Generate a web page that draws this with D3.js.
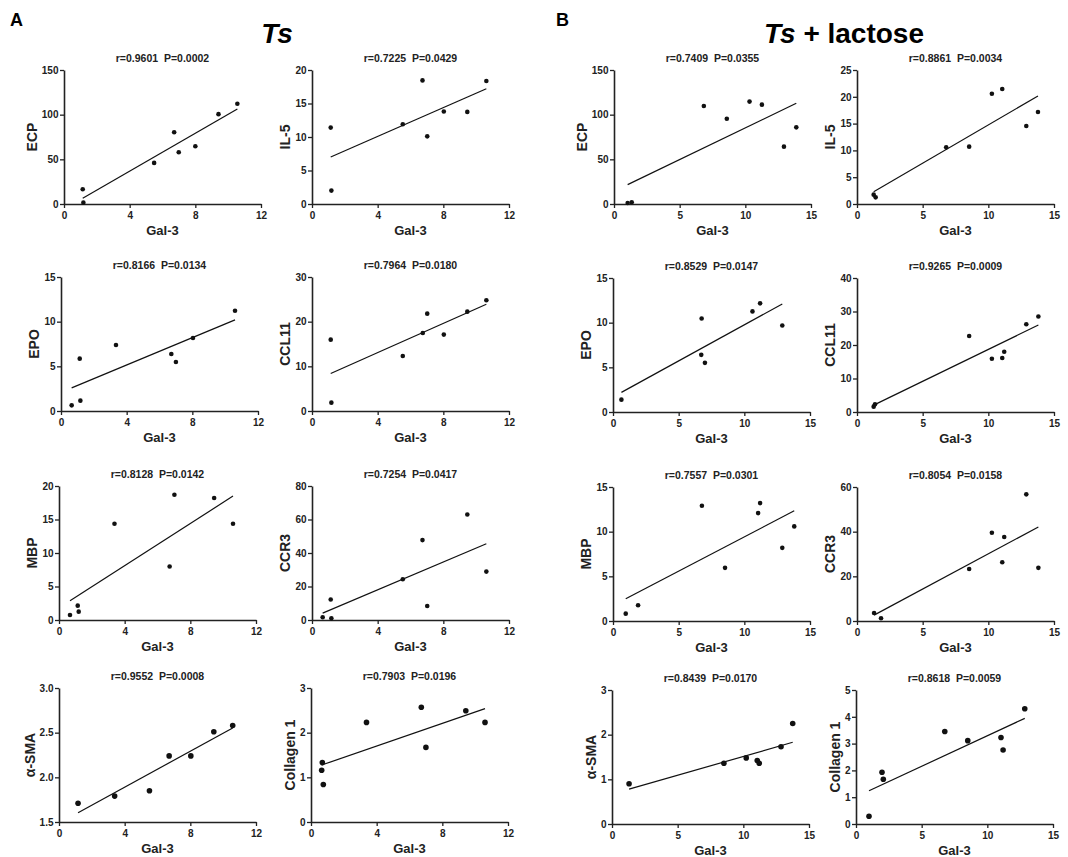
<!DOCTYPE html>
<html>
<head>
<meta charset="utf-8">
<script src="https://cdn.jsdelivr.net/npm/d3@7"></script>
<style>
  body { margin: 0; background: #fff; }
  svg { display: block; font-family: "Liberation Sans", Arial, sans-serif; }
</style>
</head>
<body>
<div id="chart"></div>
<script>
// ---- Ts group (Gal-3 on x) ----
const tsEcpX = [1.14, 1.18, 5.49, 6.71, 6.99, 8.0, 9.41, 10.56];
const tsEcpY = [16.5, 1.5, 46, 80.4, 58, 64.7, 100.6, 112.2];
const tsIl5X = [1.14, 1.18, 5.53, 6.73, 7.02, 8.03, 9.46, 10.62];
const tsIl5Y = [11.4, 2.0, 11.9, 18.45, 10.1, 13.8, 13.75, 18.35];
const tsEpoX = [0.65, 1.14, 1.18, 3.35, 6.72, 7.0, 8.04, 10.6];
const tsEpoY = [0.63, 5.86, 1.16, 7.39, 6.38, 5.49, 8.17, 11.23];
const tsCcl11X = [1.14, 1.18, 5.53, 6.75, 7.02, 8.03, 9.46, 10.62];
const tsCcl11Y = [15.97, 1.87, 12.3, 17.46, 21.8, 17.1, 22.24, 24.78];
const tsMbpX = [0.67, 1.14, 1.2, 3.38, 6.74, 7.03, 9.45, 10.6];
const tsMbpY = [0.75, 2.14, 1.25, 14.36, 7.98, 18.7, 18.2, 14.36];
const tsCcr3X = [0.65, 1.14, 1.18, 5.53, 6.73, 7.02, 9.46, 10.62];
const tsCcr3Y = [1.6, 12.2, 1.0, 24.3, 47.7, 8.4, 63.0, 28.9];
const tsSmaX = [1.16, 3.39, 5.51, 6.71, 8.03, 9.43, 10.58];
const tsSmaY = [1.71, 1.79, 1.85, 2.24, 2.24, 2.51, 2.58];
const tsColX = [0.65, 0.69, 0.75, 3.38, 6.72, 7.0, 9.43, 10.6];
const tsColY = [1.16, 1.33, 0.84, 2.23, 2.57, 1.67, 2.49, 2.23];

// ---- Ts + lactose group ----
const lacEcpX = [1.04, 1.35, 6.84, 8.59, 10.32, 11.26, 12.94, 13.88];
const lacEcpY = [1.1, 1.9, 109.7, 95.5, 114.6, 111.2, 64.2, 85.8];
const lacIl5X = [1.27, 1.42, 6.79, 8.54, 10.27, 11.06, 12.89, 13.78];
const lacIl5Y = [1.74, 1.24, 10.57, 10.7, 20.58, 21.46, 14.55, 17.16];
const lacEpoX = [0.64, 6.75, 6.72, 7.0, 10.62, 11.2, 12.89];
const lacEpoY = [1.38, 10.47, 6.4, 5.5, 11.26, 12.16, 9.69];
const lacCcl11X = [1.27, 1.37, 8.54, 10.27, 11.06, 11.21, 12.89, 13.81];
const lacCcl11Y = [1.59, 2.28, 22.7, 15.9, 16.1, 18.0, 26.2, 28.5];
const lacMbpX = [0.97, 1.91, 6.77, 8.53, 11.05, 11.2, 12.89, 13.8];
const lacMbpY = [0.82, 1.76, 12.9, 5.95, 12.08, 13.2, 8.19, 10.59];
const lacCcr3X = [1.3, 1.83, 8.54, 10.27, 11.06, 11.21, 12.89, 13.81];
const lacCcr3Y = [3.59, 1.2, 23.3, 39.5, 26.3, 37.6, 56.7, 23.8];
const lacSmaX = [1.3, 8.52, 10.22, 11.06, 11.21, 12.87, 13.76];
const lacSmaY = [0.9, 1.36, 1.48, 1.42, 1.36, 1.73, 2.25];
const lacColX = [0.99, 1.98, 2.08, 6.76, 8.51, 11.04, 11.2, 12.85];
const lacColY = [0.29, 1.93, 1.67, 3.45, 3.11, 3.23, 2.76, 4.3];

// labels and stats
const markers = ["ECP", "IL-5", "EPO", "CCL11", "MBP", "CCR3", "α-SMA", "Collagen 1"];
const tsR = ["0.9601", "0.7225", "0.8166", "0.7964", "0.8128", "0.7254", "0.9552", "0.7903"];
const tsP = ["0.0002", "0.0429", "0.0134", "0.0180", "0.0142", "0.0417", "0.0008", "0.0196"];
const lacR = ["0.7409", "0.8861", "0.8529", "0.9265", "0.7557", "0.8054", "0.8439", "0.8618"];
const lacP = ["0.0355", "0.0034", "0.0147", "0.0009", "0.0301", "0.0158", "0.0170", "0.0059"];

// axis ranges and tick values
const tsXTicks = [0, 4, 8, 12];
const lacXTicks = [0, 5, 10, 15];
const tsYTicks = [
  [0, 50, 100, 150], [0, 5, 10, 15, 20], [0, 5, 10, 15], [0, 10, 20, 30],
  [0, 5, 10, 15, 20], [0, 20, 40, 60, 80], [1.5, 2.0, 2.5, 3.0], [0, 1, 2, 3]
];
const lacYTicks = [
  [0, 50, 100, 150], [0, 5, 10, 15, 20, 25], [0, 5, 10, 15], [0, 10, 20, 30, 40],
  [0, 5, 10, 15], [0, 20, 40, 60], [0, 1, 2, 3], [0, 1, 2, 3, 4, 5]
];

const tsXs = [tsEcpX, tsIl5X, tsEpoX, tsCcl11X, tsMbpX, tsCcr3X, tsSmaX, tsColX];
const tsYs = [tsEcpY, tsIl5Y, tsEpoY, tsCcl11Y, tsMbpY, tsCcr3Y, tsSmaY, tsColY];
const lacXs = [lacEcpX, lacIl5X, lacEpoX, lacCcl11X, lacMbpX, lacCcr3X, lacSmaX, lacColX];
const lacYs = [lacEcpY, lacIl5Y, lacEpoY, lacCcl11Y, lacMbpY, lacCcr3Y, lacSmaY, lacColY];

// layout (plot-area left edges per row, per column; tops per row)
const layout = {
  ts:  { lefts: [[64, 312], [61, 312], [59, 312], [59, 311]], tops: [70, 277, 486, 688] },
  lac: { lefts: [[614, 857], [613, 857], [613, 857], [612, 856]], tops: [70, 278, 487, 690] }
};
const plotW = 197, plotH = 134;

const width = 1068, height = 857;
const svg = d3.select("#chart").append("svg")
  .attr("width", width)
  .attr("height", height);

// panel letters and group titles
svg.append("text").attr("x", 10).attr("y", 26)
  .attr("font-size", 18).attr("font-weight", "bold").text("A");
svg.append("text").attr("x", 556).attr("y", 26)
  .attr("font-size", 18).attr("font-weight", "bold").text("B");

svg.append("text").attr("x", 277).attr("y", 43)
  .attr("text-anchor", "middle").attr("font-size", 28)
  .attr("font-weight", "bold").attr("font-style", "italic").text("Ts");

let lt = svg.append("text").attr("x", 844).attr("y", 43)
  .attr("text-anchor", "middle").attr("font-size", 28).attr("font-weight", "bold");
lt.append("tspan").attr("font-style", "italic").text("Ts");
lt.append("tspan").text(" + lactose");

function regression(xs, ys) {
  const mx = d3.mean(xs), my = d3.mean(ys);
  let sxy = 0, sxx = 0;
  xs.forEach((x, i) => { sxy += (x - mx) * (ys[i] - my); sxx += (x - mx) * (x - mx); });
  const slope = sxy / sxx;
  return (x) => my + slope * (x - mx);
}

function drawPanel(left, top, xs, ys, xTicks, yTicks, yFmt, label, r, p, dotR) {
  const g = svg.append("g").attr("transform", `translate(${left},${top})`);
  const x = d3.scaleLinear().domain(d3.extent(xTicks)).range([0, plotW]);
  const y = d3.scaleLinear().domain(d3.extent(yTicks)).range([plotH, 0]);

  const xAxis = g.append("g").attr("transform", `translate(0,${plotH})`)
    .call(d3.axisBottom(x).tickValues(xTicks).tickSize(4).tickPadding(4).tickSizeOuter(0));
  const yAxis = g.append("g")
    .call(d3.axisLeft(y).tickValues(yTicks).tickFormat(yFmt).tickSize(4).tickPadding(1.5).tickSizeOuter(0));

  [xAxis, yAxis].forEach((a) => {
    a.select(".domain").attr("stroke", "#222").attr("stroke-width", 1.6);
    a.selectAll(".tick line").attr("stroke", "#222").attr("stroke-width", 1.3);
    a.selectAll(".tick text").attr("font-size", 10).attr("font-weight", "bold")
      .attr("fill", "#222").attr("font-family", "'Liberation Sans', Arial, sans-serif");
  });

  // regression line over the data range
  const fit = regression(xs, ys);
  const [x0, x1] = d3.extent(xs);
  g.append("line")
    .attr("x1", x(x0)).attr("y1", y(fit(x0)))
    .attr("x2", x(x1)).attr("y2", y(fit(x1)))
    .attr("stroke", "#111").attr("stroke-width", 1.2);

  g.selectAll("circle").data(xs.map((v, i) => [v, ys[i]]))
    .join("circle")
    .attr("cx", (d) => x(d[0])).attr("cy", (d) => y(d[1]))
    .attr("r", dotR).attr("fill", "#111");

  // stat title
  g.append("text").attr("x", plotW / 2).attr("y", -8)
    .attr("text-anchor", "middle").attr("font-size", 10.5).attr("font-weight", "bold")
    .attr("fill", "#222").attr("xml:space", "preserve")
    .text(`r=${r}  P=${p}`);

  // x label
  g.append("text").attr("x", plotW / 2).attr("y", plotH + 31)
    .attr("text-anchor", "middle").attr("font-size", 13).attr("font-weight", "bold")
    .attr("fill", "#222").text("Gal-3");

  // y label placed left of the tick labels
  const bb = yAxis.node().getBBox();
  g.append("text")
    .attr("transform", `translate(${bb.x - 5},${plotH / 2}) rotate(-90)`)
    .attr("text-anchor", "middle").attr("font-size", 14).attr("font-weight", "bold")
    .attr("fill", "#222").text(label);
}

const fmtInt = d3.format("d");
const fmtOne = d3.format(".1f");

markers.forEach((m, i) => {
  const row = Math.floor(i / 2), col = i % 2;
  const dotR = row === 3 ? 2.8 : 2.3;
  drawPanel(layout.ts.lefts[row][col], layout.ts.tops[row], tsXs[i], tsYs[i],
    tsXTicks, tsYTicks[i], i === 6 ? fmtOne : fmtInt, m, tsR[i], tsP[i], dotR);
  drawPanel(layout.lac.lefts[row][col], layout.lac.tops[row], lacXs[i], lacYs[i],
    lacXTicks, lacYTicks[i], fmtInt, m, lacR[i], lacP[i], dotR);
});
</script>
</body>
</html>
